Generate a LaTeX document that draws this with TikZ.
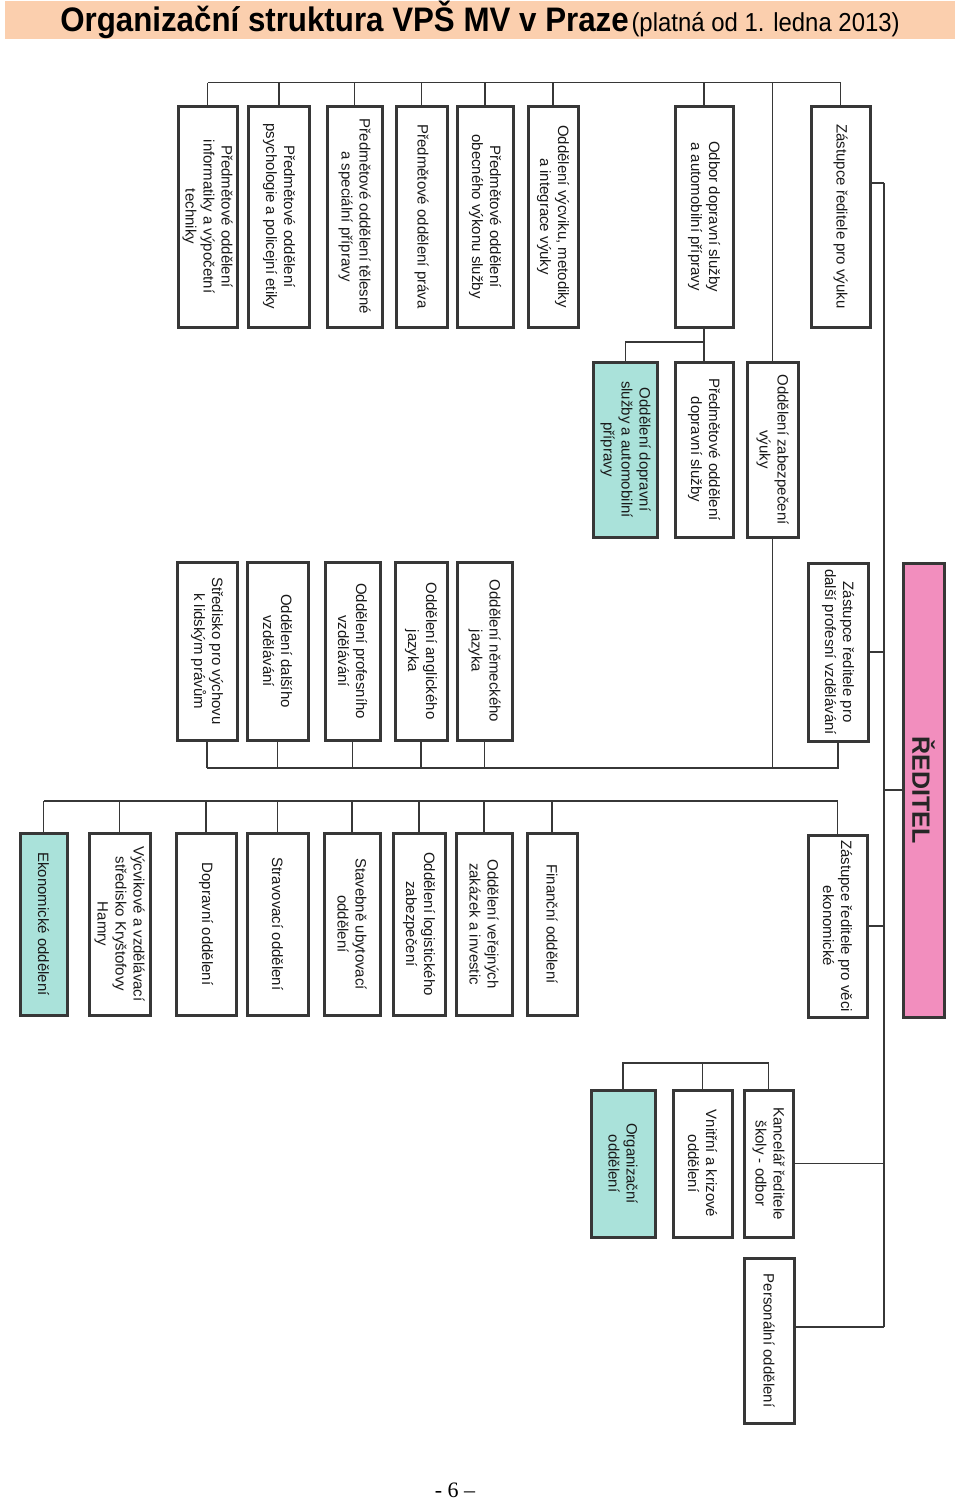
\documentclass[tikz,border=0pt]{standalone}
\usepackage{fontspec}
\setmainfont{Liberation Sans}
\newfontfamily\pagefont{Liberation Serif}
\definecolor{titleC}{RGB}{251,207,174}
\definecolor{tealC}{RGB}{170,226,218}
\definecolor{pinkC}{RGB}{242,142,190}
\definecolor{lineC}{RGB}{55,55,55}

\begin{document}
\begin{tikzpicture}[
  unit/.style={draw=lineC, line width=3pt, fill=white, rotate=-90, inner sep=0pt,
    align=center, text=black!90, font=\fontsize{15}{18}\selectfont},
  hub/.style={unit, fill=tealC},
  head/.style={unit, fill=pinkC, text=black!85, font=\bfseries\fontsize{25}{30}\selectfont},
  rowA/.style={minimum width=221pt},
  rowB/.style={minimum width=175pt},
  rowC/.style={minimum width=178pt},
  rowD/.style={minimum width=182pt},
  rowE/.style={minimum width=147pt},
  link/.style={draw=lineC, line width=1.3pt},
  titlebar/.style={fill=titleC, inner sep=0pt, minimum width=950pt, minimum height=34pt},
  x=1pt, y=-1pt  % image pixel grid, y pointing down
]
% rotated boxes: .west = top edge, .east = bottom edge, .north = right edge, .south = left edge
\useasboundingbox (0,0) rectangle (960,1500);

% ---------- title ----------
\node[titlebar] (title) at (480,20)
  {\scalebox{0.92}[1]{\bfseries\fontsize{34}{36}\selectfont Organizační struktura VPŠ MV v Praze}
   \scalebox{0.92}[1]{\fontsize{26}{28}\selectfont(platná od 1. ledna 2013)}};

% ============ top row: under the deputy for teaching ============
\node[unit, rowA, minimum height=59pt] (pInf) at (207.5,216.5) {Předmětové oddělení\\informatiky a výpočetní\\techniky};
\node[unit, rowA, minimum height=61pt] (pPsy) at (279,216.5) {Předmětové oddělení\\psychologie a policejní etiky};
\node[unit, rowA, minimum height=55pt] (pTel) at (354.5,216.5) {Předmětové oddělení tělesné\\a speciální přípravy};
\node[unit, rowA, minimum height=51pt] (pPra) at (421.5,216.5) {Předmětové oddělení práva};
\node[unit, rowA, minimum height=56pt] (pObe) at (485,216.5) {Předmětové oddělení\\obecného výkonu služby};
\node[unit, rowA, minimum height=50pt] (oVyc) at (553,216.5) {Oddělení výcviku, metodiky\\a integrace výuky};
\node[unit, rowA, minimum height=58pt] (oDop) at (704,216.5) {Odbor dopravní služby\\a automobilní přípravy};
\node[unit, rowA, minimum height=59pt] (zVyu) at (840.5,216.5) {Zástupce ředitele pro výuku};

% second tier
\node[hub, rowB, minimum height=64pt] (oDsa) at (625.5,449.5) {Oddělení dopravní\\služby a automobilní\\přípravy};
\node[unit, rowB, minimum height=58pt] (pDop) at (704,449.5) {Předmětové oddělení\\dopravní služby};
\node[unit, rowB, minimum height=51pt] (oZab) at (772.5,449.5) {Oddělení zabezpečení\\výuky};

% ============ middle row: further professional education ============
\node[unit, rowC, minimum height=60pt] (mStr) at (207,651) {Středisko pro výchovu\\k lidským právům};
\node[unit, rowC, minimum height=61pt] (mDal) at (277.5,651) {Oddělení dalšího\\vzdělávání};
\node[unit, rowC, minimum height=55pt] (mPro) at (352.5,651) {Oddělení profesního\\vzdělávání};
\node[unit, rowC, minimum height=52pt] (mAng) at (421,651) {Oddělení anglického\\jazyka};
\node[unit, rowC, minimum height=55pt] (mNem) at (484.5,651) {Oddělení německého\\jazyka};
\node[unit, rowC, minimum height=60pt] (zDal) at (838,652) {Zástupce ředitele pro\\další profesní vzdělávání};

% director
\node[head, minimum width=454pt, minimum height=41pt] (red) at (923.5,790) {ŘEDITEL};

% ============ bottom row: economic affairs ============
\node[hub, rowD, minimum height=47pt] (oEko) at (43.5,924) {Ekonomické oddělení};
\node[unit, rowD, minimum height=61pt] (vHam) at (119.5,924) {Výcvikové a vzdělávací\\středisko Kryštofovy\\Hamry};
\node[unit, rowD, minimum height=60pt] (oDoa) at (206,924) {Dopravní oddělení};
\node[unit, rowD, minimum height=61pt] (oStr) at (277.5,924) {Stravovací oddělení};
\node[unit, rowD, minimum height=56pt] (oSta) at (352,924) {Stavebně ubytovací\\oddělení};
\node[unit, rowD, minimum height=52pt] (oLog) at (419,924) {Oddělení logistického\\zabezpečení};
\node[unit, rowD, minimum height=56pt] (oVer) at (484,924) {Oddělení veřejných\\zakázek a investic};
\node[unit, rowD, minimum height=50pt] (oFin) at (552,924) {Finanční oddělení};
\node[unit, rowD, minimum height=59pt] (zEko) at (837.5,926) {Zástupce ředitele pro věci\\ekonomické};

% ============ office of the director ============
\node[hub, rowE, minimum height=64pt] (oOrg) at (623,1163.5) {Organizační\\oddělení};
\node[unit, rowE, minimum height=59pt] (oVni) at (702.5,1163.5) {Vnitřní a krizové\\oddělení};
\node[unit, rowE, minimum height=49pt] (oKan) at (768.5,1163.5) {Kancelář ředitele\\školy - odbor};
\node[unit, minimum width=165pt, minimum height=50pt] (oPer) at (769,1340.5) {Personální oddělení};

% ---------- connectors ----------
\coordinate (busA) at (0,82.5);
\coordinate (busB) at (0,342);
\coordinate (busC) at (0,768);
\coordinate (busD) at (0,801);
\coordinate (busE) at (0,1063);
\coordinate (spineTop) at (884,183);
\coordinate (spineBot) at (884,1327);

\draw[link] (pInf.west |- busA) -- (zVyu.west |- busA);
\foreach \n in {pInf,pPsy,pTel,pPra,pObe,oVyc,oDop,zVyu}
  \draw[link] (\n.west) -- (\n.west |- busA);
\draw[link] (oZab.west |- busA) -- (oZab.west);
\draw[link] (oDop.east) -- (pDop.west);
\draw[link] (oDop.east |- busB) -| (oDsa.west);

\draw[link] (spineTop) -- (spineBot);
\draw[link] (zVyu.north |- spineTop) -- (spineTop);
\draw[link] (zDal.north) -- (zDal.north -| spineTop);
\draw[link] (red.south) -- (red.south -| spineTop);
\draw[link] (zEko.north) -- (zEko.north -| spineTop);
\draw[link] (oKan.north) -- (oKan.north -| spineTop);
\draw[link] (oPer.north |- spineBot) -- (spineBot);

\draw[link] (zDal.east) -- (zDal.east |- busC) -- (mStr.east |- busC);
\foreach \n in {mStr,mDal,mPro,mAng,mNem}
  \draw[link] (\n.east) -- (\n.east |- busC);
\draw[link] (oZab.east) -- (oZab.east |- busC);

\draw[link] (zEko.west) -- (zEko.west |- busD) -- (oEko.west |- busD);
\foreach \n in {oEko,vHam,oDoa,oStr,oSta,oLog,oVer,oFin}
  \draw[link] (\n.west) -- (\n.west |- busD);

\draw[link] (oKan.west) -- (oKan.west |- busE) -| (oOrg.west);
\draw[link] (oVni.west) -- (oVni.west |- busE);

% ---------- page number ----------
\node[font=\pagefont\fontsize{22}{24}\selectfont] (page) at (455,1490) {- 6 –};

\end{tikzpicture}
\end{document}
